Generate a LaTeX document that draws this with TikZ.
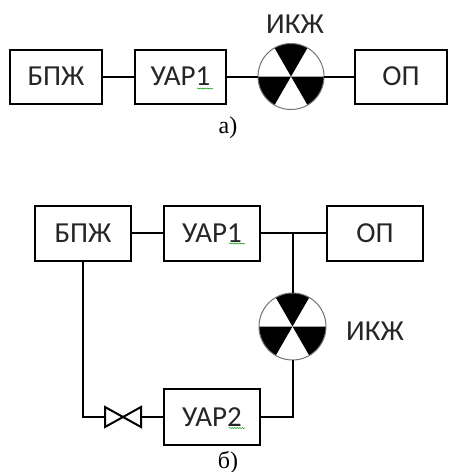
\documentclass[tikz,border=0pt]{standalone}
\usepackage{fontspec}
\setmainfont{Carlito}
\newfontfamily\capfont{Liberation Serif}
\usetikzlibrary{decorations.pathmorphing}
\tikzset{
  x=1pt,y=-1pt,
  blockbox/.style={draw=black,line width=2pt,inner sep=0pt,outer sep=0pt,font=\fontsize{29}{32}\selectfont,text=black!85},
  boxa/.style={blockbox,minimum width=92pt,minimum height=54pt},
  boxb/.style={blockbox,minimum width=96pt,minimum height=55pt},
  wire/.style={draw=black,line width=2pt},
  radiation/.style={circle,draw=black!55,line width=1pt,minimum size=66pt,inner sep=0pt,outer sep=0pt,
    path picture={
      \foreach \a in {60,180,300}{
        \fill[black] (path picture bounding box.center) -- ++(\a:40pt) arc[start angle=\a,end angle=\a+60,radius=40pt] -- cycle;
      }
    }},
  lbl/.style={inner sep=0pt,font=\fontsize{29}{32}\selectfont,text=black!85},
  capt/.style={inner sep=0pt,font=\capfont\fontsize{24}{26}\selectfont},
  squiggle/.style={draw=green!60!black,line width=0.5pt,decorate,decoration={snake,amplitude=0.6pt,segment length=2.5pt}},
  valvebox/.style={minimum width=36pt,minimum height=20pt,inner sep=0pt,outer sep=0pt},
  valveline/.style={draw=black,line width=2pt,line join=miter}
}
\begin{document}
\begin{tikzpicture}
\useasboundingbox (0,0) rectangle (448,472);
% a)
\node[boxa] (a1) at (56,76.5) {БПЖ};
\node[boxa,minimum width=91pt] (a2) at (180.5,76.5) {УАР1};
\node[radiation] (ar) at (291,76.5) {};
\node[boxa] (a3) at (401,76.5) {ОП};
\node[lbl] (alabel) at (295,24) {ИКЖ};
\node[capt] (acap) at (228,128) {а)};
\draw[wire] (a1) -- (a2);
\draw[wire] (a2.east) -- (ar.west);
\draw[wire] (ar.east) -- (a3.west);
\coordinate (as1) at (197,88.5);
\coordinate (as2) at (213,88.5);
\draw[squiggle] (as1) -- (as2);
% b)
\node[boxb] (b1) at (83,233) {БПЖ};
\node[boxb] (b2) at (212,233) {УАР1};
\node[boxb] (b3) at (375,233) {ОП};
\node[radiation,minimum size=67pt] (br) at (292.5,326.5) {};
\node[boxb,minimum height=56pt] (b4) at (212,417) {УАР2};
\node[valvebox] (v) at (123,417) {};
\node[lbl] (blabel) at (375,331) {ИКЖ};
\node[capt] (bcap) at (228,462) {б)};
\coordinate (j) at (br.north |- b2.east);
\coordinate (c1) at (b1.south |- v.west);
\coordinate (c2) at (br.south |- b4.east);
\draw[wire] (b1) -- (b2);
\draw[wire] (b2.east) -- (b3.west);
\draw[wire] (j) -- (br.north);
\draw[wire,line join=miter] (b1.south) -- (c1) -- (v.west);
\draw[wire] (v.east) -- (b4.west);
\draw[wire,line join=miter] (b4.east) -- (c2) -- (br.south);
\draw[valveline] (v.north west) -- (v.south east) -- (v.north east) -- (v.south west) -- cycle;
\coordinate (bs1) at (229,243.5);
\coordinate (bs2) at (245,243.5);
\draw[squiggle] (bs1) -- (bs2);
\coordinate (bs3) at (229,428);
\coordinate (bs4) at (245,428);
\draw[squiggle] (bs3) -- (bs4);
\end{tikzpicture}
\end{document}
